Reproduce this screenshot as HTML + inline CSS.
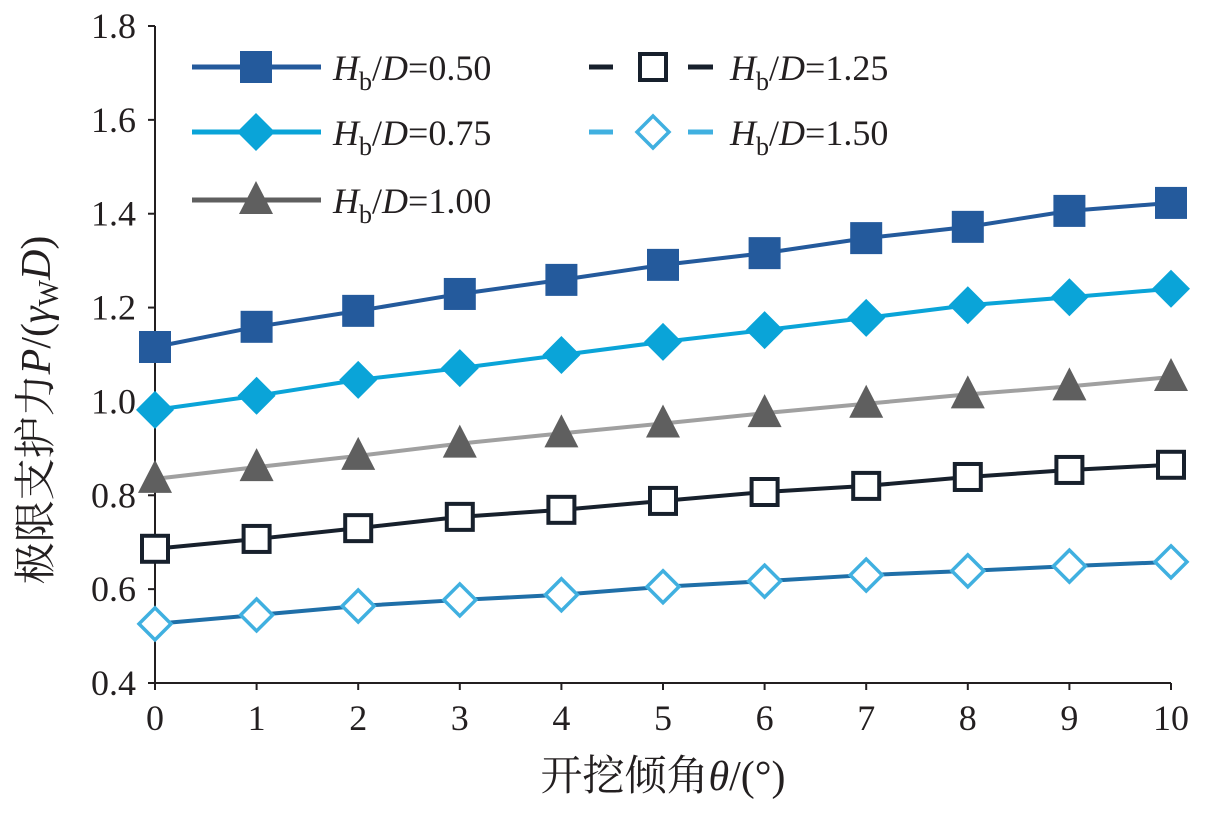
<!DOCTYPE html>
<html><head><meta charset="utf-8"><style>
body{margin:0;background:#fff}
svg text{font-family:"Liberation Serif","Times New Roman",Times,"Noto Serif CJK SC",serif;fill:#231f20}
</style></head><body>
<svg id="c" width="1209" height="808" xmlns="http://www.w3.org/2000/svg" font-family="Liberation Serif, Times New Roman, Noto Serif CJK SC, serif">
<g id="axes"></g><g id="series"></g><g id="legend"></g>
<text x="663" y="790" font-size="42" text-anchor="middle">开挖倾角<tspan font-style="italic">θ</tspan>/(°)</text>
<text transform="translate(50,410) rotate(-90)" font-size="42" text-anchor="middle">极限支护力<tspan font-style="italic">P</tspan>/(<tspan font-style="italic">γ</tspan><tspan font-size="28" dy="8">W</tspan><tspan font-style="italic" dy="-8">D</tspan>)</text>
</svg>
<script>
const categories=[0,1,2,3,4,5,6,7,8,9,10];
const yTicks=[0.4,0.6,0.8,1.0,1.2,1.4,1.6,1.8];
const s050=[1.116,1.159,1.193,1.229,1.259,1.291,1.316,1.348,1.372,1.406,1.423];
const s075=[0.982,1.012,1.046,1.071,1.099,1.127,1.152,1.178,1.205,1.222,1.240];
const s100=[0.835,0.860,0.884,0.910,0.932,0.953,0.975,0.995,1.015,1.032,1.052];
const s125=[0.686,0.707,0.730,0.754,0.769,0.788,0.807,0.820,0.839,0.854,0.865];
const s150=[0.526,0.545,0.564,0.577,0.588,0.605,0.617,0.630,0.639,0.649,0.658];
const labels=["0.50","0.75","1.00","1.25","1.50"];
const NS="http://www.w3.org/2000/svg";
const X=v=>155+v*101.6, Y=v=>683-(v-0.4)/1.4*657;
function mk(t,a,p){const e=document.createElementNS(NS,t);for(const k in a)e.setAttribute(k,a[k]);p.appendChild(e);return e;}
const ax=document.getElementById('axes');
let l=mk('line',{x1:155,y1:26,x2:155,y2:683,stroke:'#231f20','stroke-width':2},ax);


l=mk('line',{x1:155,y1:683,x2:1171,y2:683,stroke:'#231f20','stroke-width':2},ax);


yTicks.forEach(v=>{mk('line',{x1:148,x2:155,y1:Y(v),y2:Y(v),stroke:'#231f20','stroke-width':2},ax);
const t=mk('text',{x:136,y:Y(v)+12,'font-size':36,'text-anchor':'end'},ax);t.textContent=v.toFixed(1);

});
categories.forEach(c=>{mk('line',{x1:X(c),x2:X(c),y1:683,y2:690,stroke:'#231f20','stroke-width':2},ax);
const t=mk('text',{x:X(c),y:730,'font-size':36,'text-anchor':'middle'},ax);t.textContent=c;

});
const defs=[{d:s050,c:'#245a9c',m:'sq',f:true,lc:'#245a9c'},{d:s075,c:'#0aa4d8',m:'di',f:true,lc:'#0aa4d8'},
{d:s100,c:'#5f5f5f',m:'tri',f:true,lc:'#a0a0a0'},{d:s125,c:'#17202c',m:'sq',f:false,lc:'#17202c'},{d:s150,c:'#40b0e0',m:'di',f:false,lc:'#1f6fa8'}];
function marker(g,x,y,d){const fill=d.f?d.c:'#fff';let e;
if(d.m==='sq'){e=d.f?mk('rect',{x:x-16,y:y-16,width:32,height:32,fill:fill},g):mk('rect',{x:x-13,y:y-13,width:26,height:26,fill:'#fff',stroke:d.c,'stroke-width':4},g);}
else if(d.m==='di'){const r=d.f?19:16;e=mk('polygon',{points:`${x},${y-r} ${x+r},${y} ${x},${y+r} ${x-r},${y}`,fill:fill,stroke:d.c,'stroke-width':d.f?0:3.5},g);}
else e=mk('polygon',{points:`${x},${y-19} ${x+17},${y+14} ${x-17},${y+14}`,fill:fill},g);

}
const sg=document.getElementById('series');
defs.forEach((d,i)=>{const g=mk('g',{},sg);


mk('polyline',{points:d.d.map((v,j)=>X(categories[j])+','+Y(v)).join(' '),fill:'none',stroke:d.lc,'stroke-width':4},g);
d.d.forEach((v,j)=>marker(g,X(categories[j]),Y(v),d));});
const lg=document.getElementById('legend');
const pos=[[256,67],[256,132],[256,200],[653,67],[653,132]];
defs.forEach((d,i)=>{const g=mk('g',{},lg);


const [x,y]=pos[i];
if(d.f) mk('line',{x1:x-64,x2:x+65,y1:y,y2:y,stroke:d.c,'stroke-width':5},g);
else{mk('line',{x1:x-64,x2:x-40,y1:y,y2:y,stroke:d.c,'stroke-width':5},g);mk('line',{x1:x+35,x2:x+60,y1:y,y2:y,stroke:d.c,'stroke-width':5},g);}
marker(g,x,y,d);
const t=mk('text',{x:x+77,y:y+13,'font-size':36},g);
t.innerHTML='<tspan font-style="italic">H</tspan><tspan font-size="26" dy="10">b</tspan><tspan dy="-10">/</tspan><tspan font-style="italic">D</tspan>='+labels[i];});
</script>
</body></html>
